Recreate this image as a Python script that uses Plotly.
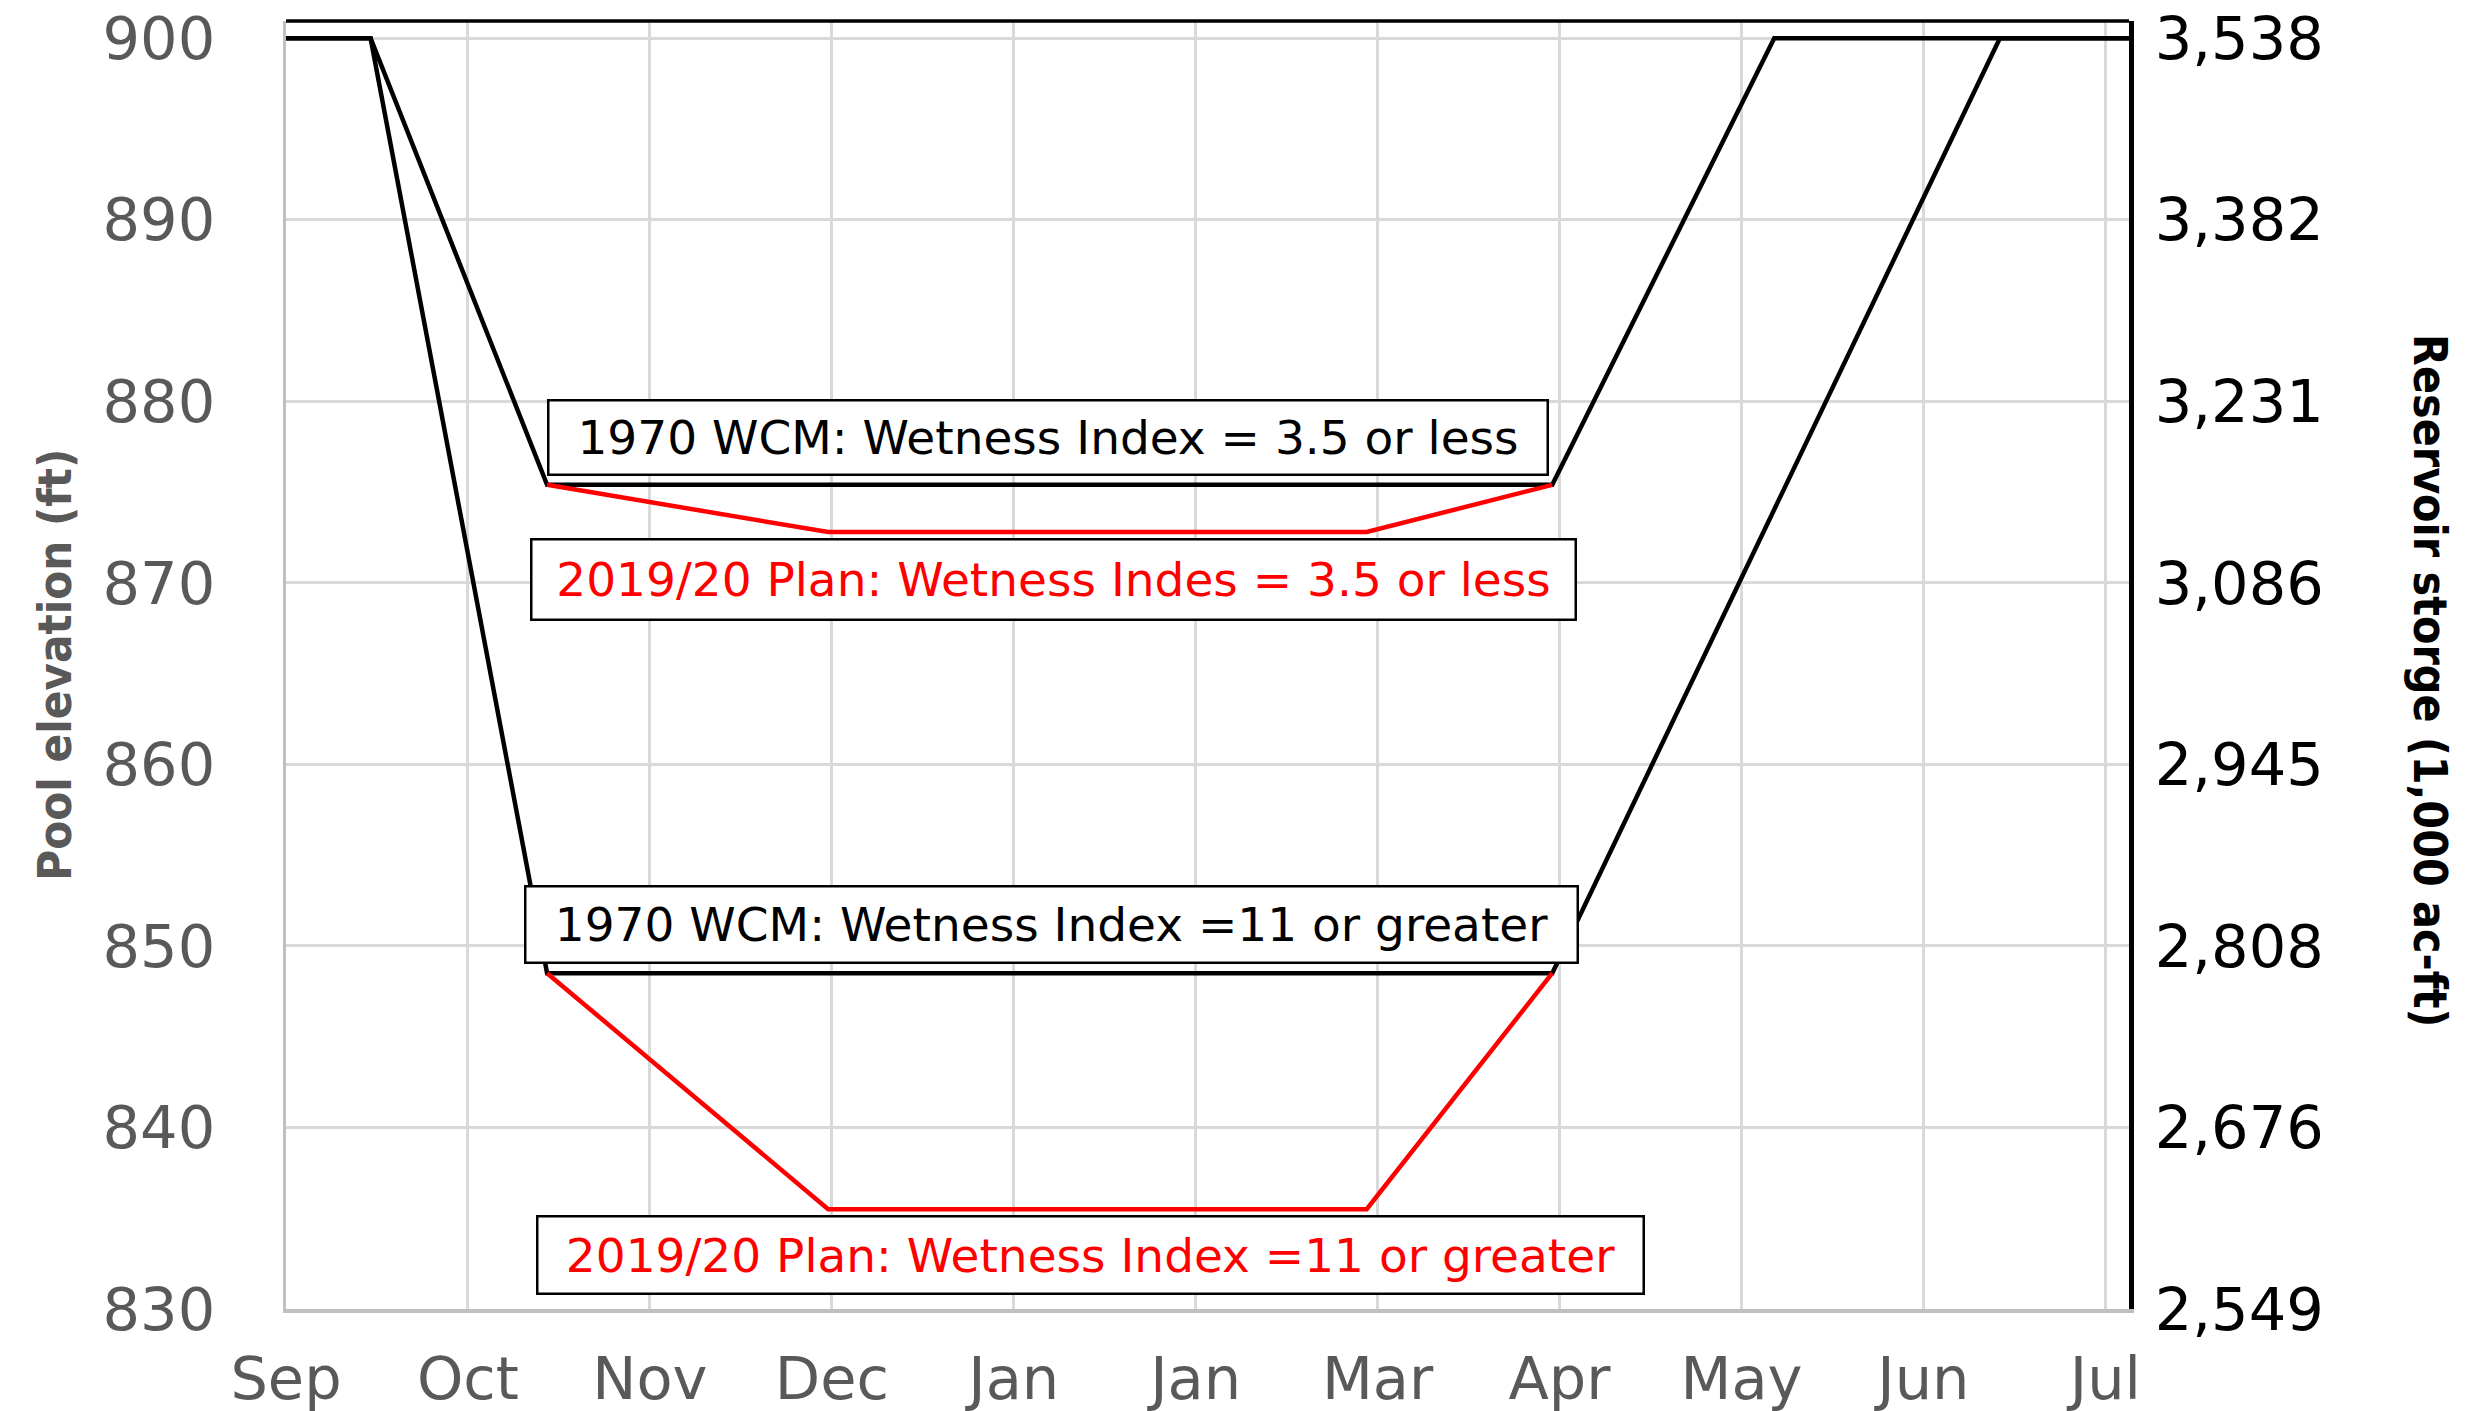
import plotly.graph_objects as go

# x is months after 1 Sep; ticks at each month
month_labels = ['Sep', 'Oct', 'Nov', 'Dec', 'Jan', 'Jan', 'Mar', 'Apr', 'May', 'Jun', 'Jul']
month_ticks = list(range(len(month_labels)))

elev_ticks = [830, 840, 850, 860, 870, 880, 890, 900]
storage_labels = ['2,549', '2,676', '2,808', '2,945', '3,086', '3,231', '3,382', '3,538']

# 1970 WCM rule curves
wcm_dry_x = [0, 0.465, 1.435, 6.96, 8.18, 10.13]
wcm_dry_y = [900, 900, 875.4, 875.4, 900, 900]
wcm_wet_x = [0, 0.465, 1.435, 6.96, 9.42, 10.13]
wcm_wet_y = [900, 900, 848.5, 848.5, 900, 900]

# 2019/20 plan, only where it departs from the WCM
plan_dry_x = [1.435, 2.98, 5.94, 6.96]
plan_dry_y = [875.4, 872.8, 872.8, 875.4]
plan_wet_x = [1.435, 2.98, 5.94, 6.96]
plan_wet_y = [848.5, 835.5, 835.5, 848.5]

GRAY = '#595959'
GRID = '#d9d9d9'

fig = go.Figure()
fig.add_trace(go.Scatter(x=wcm_dry_x, y=wcm_dry_y, mode='lines',
                         line=dict(color='black', width=4.5)))
fig.add_trace(go.Scatter(x=wcm_wet_x, y=wcm_wet_y, mode='lines',
                         line=dict(color='black', width=4.5)))
# red curves go on the right axis (same scale) so they sit on top
fig.add_trace(go.Scatter(x=plan_dry_x, y=plan_dry_y, mode='lines', yaxis='y2',
                         line=dict(color='#ff0000', width=4.5)))
fig.add_trace(go.Scatter(x=plan_wet_x, y=plan_wet_y, mode='lines', yaxis='y2',
                         line=dict(color='#ff0000', width=4.5)))

tick_font = dict(family='DejaVu Sans', size=59, color=GRAY)
yrange = [830, 900.95]

fig.update_layout(
    width=2466, height=1411,
    margin=dict(l=278, r=345, t=13, b=110),
    plot_bgcolor='white', paper_bgcolor='white',
    showlegend=False,
    xaxis=dict(
        range=[0, 10.13], tickvals=month_ticks, ticktext=month_labels,
        showgrid=True, gridcolor=GRID, gridwidth=3, zeroline=False,
        showline=True, linecolor='#bfbfbf', linewidth=4,
        ticks='', tickfont=tick_font, ticklabelstandoff=15, automargin=False,
        ticklabeloverflow='allow',
    ),
    yaxis=dict(
        range=yrange, tickvals=elev_ticks,
        showgrid=True, gridcolor=GRID, gridwidth=3, zeroline=False,
        showline=True, linecolor='#bfbfbf', linewidth=3,
        ticks='', tickfont=tick_font, ticklabelstandoff=56, automargin=False,
        ticklabeloverflow='allow',
    ),
    yaxis2=dict(
        range=yrange, tickvals=elev_ticks, ticktext=storage_labels,
        overlaying='y', side='right', showgrid=False, zeroline=False,
        showline=True, linecolor='black', linewidth=5,
        ticks='', tickfont=dict(family='DejaVu Sans', size=59, color='black'),
        ticklabelstandoff=9, automargin=False, ticklabeloverflow='allow',
    ),
)

# top border of the plot area
fig.add_shape(type='line', xref='paper', yref='paper', x0=0, x1=1, y0=1, y1=1,
              line=dict(color='black', width=3.5))

box_font = 'DejaVu Sans'
boxes = [
    ('1970 WCM: Wetness Index = 3.5 or less', 'black', 4.19, 878.0, 995, 70),
    ('2019/20 Plan: Wetness Indes = 3.5 or less', '#ff0000', 4.22, 870.2, 1040, 76),
    ('1970 WCM: Wetness Index =11 or greater', 'black', 4.21, 851.2, 1048, 72),
    ('2019/20 Plan: Wetness Index =11 or greater', '#ff0000', 4.42, 833.0, 1102, 73),
]
for text, col, bx, by, w, h in boxes:
    fig.add_annotation(
        x=bx, y=by, xref='x', yref='y', text=text, showarrow=False,
        xanchor='center', yanchor='middle', width=w, height=h,
        font=dict(family=box_font, size=47, color=col),
        bgcolor='white', bordercolor='black', borderwidth=2.5, borderpad=1,
    )

title_font = 'DejaVu Sans Condensed'
fig.add_annotation(
    x=-0.126, y=0.5, xref='paper', yref='paper', text='<b>Pool elevation (ft)</b>',
    showarrow=False, textangle=-90, xanchor='center', yanchor='middle',
    font=dict(family=title_font, size=47, color=GRAY),
)
fig.add_annotation(
    x=1.163, y=0.488, xref='paper', yref='paper',
    text='<b>Reservoir storge (1,000 ac-ft)</b>',
    showarrow=False, textangle=90, xanchor='center', yanchor='middle',
    font=dict(family=title_font, size=46, color='black'),
)

fig.write_html('out.html')
